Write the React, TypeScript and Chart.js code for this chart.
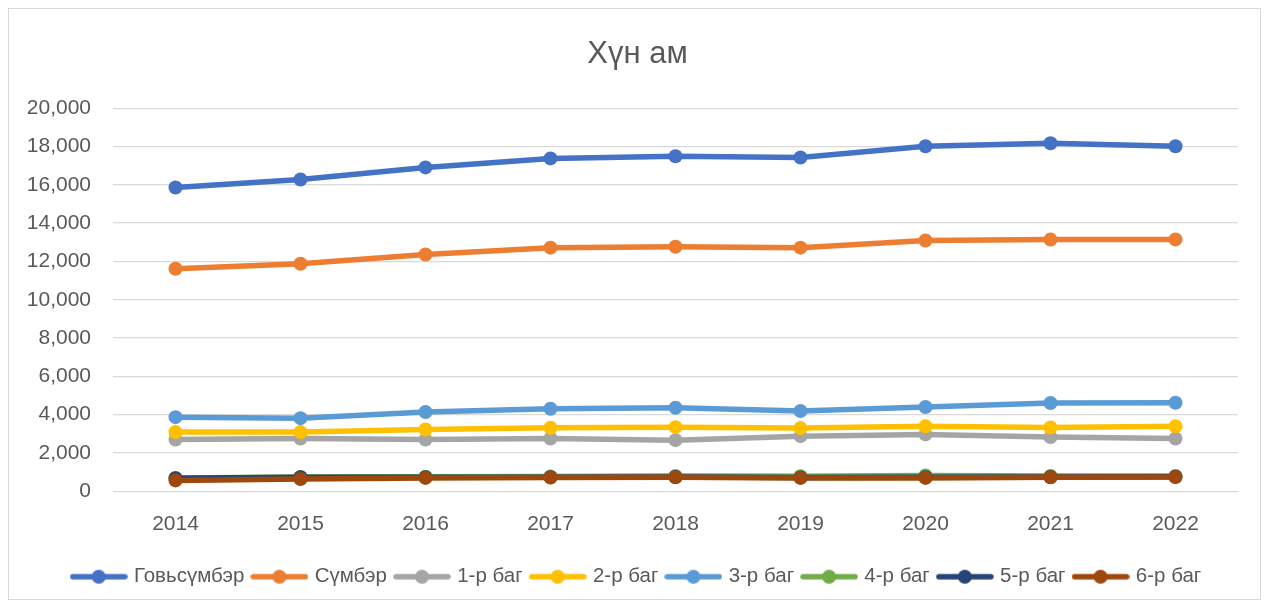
import React, { useEffect, useRef } from "react";
import { Chart, registerables } from "chart.js";

Chart.register(...registerables);

const years = ["2014", "2015", "2016", "2017", "2018", "2019", "2020", "2021", "2022"];
const seriesNames = ["Говьсүмбэр", "Сүмбэр", "1-р баг", "2-р баг", "3-р баг", "4-р баг", "5-р баг", "6-р баг"];
const seriesColors = ["#4472C4", "#ED7D31", "#A5A5A5", "#FFC000", "#5B9BD5", "#70AD47", "#264478", "#9E480E"];

const govsumber = [15860, 16280, 16910, 17380, 17490, 17430, 18010, 18170, 18010];
const sumber = [11620, 11880, 12360, 12720, 12770, 12720, 13090, 13140, 13150];
const bag1 = [2700, 2760, 2700, 2760, 2670, 2880, 2970, 2830, 2760];
const bag2 = [3090, 3090, 3230, 3320, 3350, 3300, 3390, 3330, 3390];
const bag3 = [3870, 3820, 4140, 4310, 4360, 4190, 4400, 4610, 4620];
const bag4 = [700, 750, 760, 770, 800, 790, 830, 800, 800];
const bag5 = [680, 730, 740, 740, 750, 720, 730, 750, 760];
const bag6 = [570, 640, 700, 720, 730, 700, 700, 730, 750];

const seriesValues = [govsumber, sumber, bag1, bag2, bag3, bag4, bag5, bag6];

const yTicks = [0, 2000, 4000, 6000, 8000, 10000, 12000, 14000, 16000, 18000, 20000];

const TEXT = "#595959";
const FONT = "'Liberation Sans', Arial, sans-serif";

function makeMarker(color: string): HTMLCanvasElement {
  const c = document.createElement("canvas");
  c.width = 58;
  c.height = 16;
  const ctx = c.getContext("2d")!;
  ctx.strokeStyle = color;
  ctx.lineWidth = 5.5;
  ctx.lineCap = "round";
  ctx.beginPath();
  ctx.moveTo(3, 8);
  ctx.lineTo(55, 8);
  ctx.stroke();
  ctx.fillStyle = color;
  ctx.beginPath();
  ctx.arc(29, 8, 7, 0, Math.PI * 2);
  ctx.fill();
  return c;
}

export default function App() {
  const ref = useRef<HTMLCanvasElement>(null);

  useEffect(() => {
    if (!ref.current) return;
    const markers = seriesColors.map(makeMarker);
    const chart = new Chart(ref.current, {
      type: "line",
      data: {
        labels: years,
        datasets: seriesNames.map((name, i) => ({
          label: name,
          data: seriesValues[i],
          borderColor: seriesColors[i],
          backgroundColor: seriesColors[i],
          pointBackgroundColor: seriesColors[i],
          pointBorderWidth: 0,
          pointRadius: 7,
          borderWidth: 5.5,
          tension: 0,
          order: seriesNames.length - i,
        })),
      },
      options: {
        animation: false,
        responsive: true,
        maintainAspectRatio: false,
        layout: { padding: { left: 6, right: 0, top: 0, bottom: 2 } },
        plugins: {
          tooltip: { enabled: false },
          title: {
            display: true,
            text: "Хүн ам",
            color: TEXT,
            font: { family: FONT, size: 31, weight: "normal" },
            padding: { top: 27, bottom: 35 },
          },
          legend: {
            position: "bottom",
            labels: {
              color: TEXT,
              font: { family: FONT, size: 20.5 },
              usePointStyle: true,
              pointStyleWidth: 50,
              padding: 10,
              generateLabels: (ch: any) =>
                ch.data.datasets.map((ds: any, i: number) => ({
                  text: ds.label,
                  fillStyle: seriesColors[i],
                  strokeStyle: seriesColors[i],
                  lineWidth: 0,
                  pointStyle: markers[i],
                  hidden: !ch.isDatasetVisible(i),
                  datasetIndex: i,
                  fontColor: TEXT,
                })),
            },
          },
        },
        scales: {
          x: {
            type: "category",
            offset: true,
            grid: { display: false, drawTicks: false },
            border: { display: false },
            ticks: {
              color: TEXT,
              font: { family: FONT, size: 21 },
              padding: 20,
            },
          },
          y: {
            min: 0,
            max: 20000,
            afterFit: (s: any) => {
              s.width = 98;
            },
            afterBuildTicks: (s: any) => {
              s.ticks = yTicks.map((v) => ({ value: v }));
            },
            grid: { color: "#d9d9d9", lineWidth: 1.3, drawTicks: false },
            border: { display: false },
            ticks: {
              color: TEXT,
              font: { family: FONT, size: 21 },
              padding: 22,
              callback: (v: any) => Number(v).toLocaleString("en-US"),
            },
          },
          yRightSpace: {
            type: "linear",
            position: "right",
            display: true,
            afterFit: (s: any) => {
              s.width = 22;
            },
            grid: { display: false, drawTicks: false },
            border: { display: false },
            ticks: { display: false },
          },
        },
      },
    });
    return () => chart.destroy();
  }, []);

  return (
    <div
      style={{
        width: 1253,
        height: 592,
        border: "1px solid #d9d9d9",
        boxSizing: "border-box",
        position: "relative",
        background: "#fff",
      }}
    >
      <canvas ref={ref} />
    </div>
  );
}
